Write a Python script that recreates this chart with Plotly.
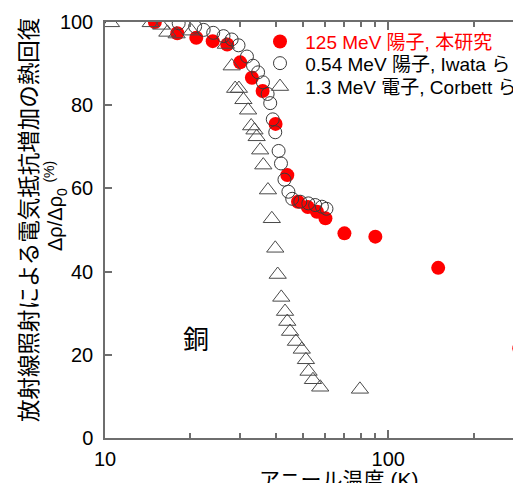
import plotly.graph_objects as go

# 125 MeV protons (this work)
red_T = [15, 18, 21, 24, 27, 30, 33, 36, 40, 44, 48, 52, 56, 60, 70, 90, 150, 290]
red_R = [100, 97.3, 96.2, 95.4, 94.6, 90.3, 86.6, 83.4, 75.5, 63.2, 56.8, 55.5, 54.4, 52.8, 49.2, 48.4, 40.9, 21.6]

# 0.54 MeV protons, Iwata et al.
circ_T = [18.2, 20.8, 22.3, 24.1, 26.2, 28.0, 29.6, 31.7, 33.3, 34.7, 36.1, 37.5, 38.3, 39.1,
          39.9, 41.0, 41.8, 43.0, 44.4, 45.8, 48.9, 52.2, 55.2, 58.3, 60.5]
circ_R = [99.7, 98.9, 98.1, 97.4, 96.6, 95.8, 94.4, 91.7, 89.5, 87.9, 85.5, 82.7, 80.5, 76.6,
          73.5, 69.0, 66.0, 62.1, 59.2, 57.5, 56.8, 56.4, 56.0, 55.6, 55.1]

# 1.3 MeV electrons, Corbett et al.
tri_T = [10.5, 14.5, 15.8, 16.6, 17.9, 20.2, 26.7, 28.0, 28.8, 29.7, 30.8, 32.0, 32.8, 33.7, 34.3,
         35.3, 36.2, 37.6, 38.8, 39.9, 40.7, 41.9, 43.2, 44.0, 45.0, 47.2, 49.5, 51.2, 52.3,
         54.2, 57.5, 79.4]
tri_R = [99.8, 99.8, 99.2, 97.5, 97.1, 97.8, 94.6, 89.4, 84.0, 84.0, 81.3, 78.8, 75.0, 74.0, 72.4,
         69.2, 65.6, 59.6, 52.7, 45.6, 39.3, 33.8, 30.4, 28.0, 25.6, 23.2, 21.3, 18.8, 16.0,
         14.0, 12.2, 11.7]

names = ["125 MeV 陽子, 本研究", "0.54 MeV 陽子, Iwata ら", "1.3 MeV 電子, Corbett ら"]
x_major = [10, 100]
x_minor = [20, 30, 40, 50, 60, 70, 80, 90, 200, 300]
y_ticks = [0, 20, 40, 60, 80, 100]

FONT = "Liberation Sans, Arial, Noto Sans CJK JP"
AX = "#6e6e6e"

fig = go.Figure()
fig.add_trace(go.Scatter(x=red_T, y=red_R, mode="markers",
                         name="\u00a0<span style='color:#ff0000'>" + names[0] + "</span>",
                         marker=dict(symbol="circle", size=14, color="#ff0000", line=dict(width=0)),
                         legend="legend"))
fig.add_trace(go.Scatter(x=circ_T, y=circ_R, mode="markers", name="\u00a0" + names[1],
                         marker=dict(symbol="circle-open", size=13, color="#3a3a3a", line=dict(width=1)),
                         legend="legend2"))
fig.add_trace(go.Scatter(x=tri_T, y=tri_R, mode="markers", name="\u00a0" + names[2],
                         marker=dict(symbol="triangle-up-open", size=15, color="#4a4a4a", line=dict(width=1)),
                         legend="legend3"))

OFF = 8  # page body margin
W, H = 521 - OFF, 483 - OFF
L, T = 105 - OFF, 22 - OFF
R, B = 0, H - (438 - OFF)
pw = W - L - R
ph = H - T - B

def px(xp):
    return (xp - OFF - L) / pw

def py(yp):
    return (H - B - (yp - OFF)) / ph

leg_common = dict(font=dict(family=FONT, size=19, color="black"), bgcolor="rgba(0,0,0,0)",
                  xanchor="left", yanchor="middle", borderwidth=0, itemwidth=30)

xmax = 1 + pw / 283.3
LEGX = 260

fig.update_layout(
    width=W, height=H,
    margin=dict(l=L, r=R, t=T, b=B, pad=0, autoexpand=False),
    paper_bgcolor="white", plot_bgcolor="white",
    font=dict(family=FONT, size=20, color="black"),
    showlegend=True,
    legend=dict(x=px(LEGX), y=py(41.7), **leg_common),
    legend2=dict(x=px(LEGX), y=py(63.3), **leg_common),
    legend3=dict(x=px(LEGX), y=py(86.7), **leg_common),
    xaxis=dict(type="log", range=[1, xmax], showgrid=False, zeroline=False,
               showline=True, linecolor=AX, linewidth=1.5, mirror="ticks",
               ticks="inside", ticklen=8, tickwidth=1.5, tickcolor=AX,
               tickmode="array", tickvals=x_major, ticktext=[str(v) for v in x_major],
               tickfont=dict(family=FONT, size=20, color="black"), ticklabelstandoff=2,
               minor=dict(ticks="inside", ticklen=5, tickwidth=1.5, tickcolor=AX,
                          tickmode="array", tickvals=x_minor, showgrid=False)),
    yaxis=dict(range=[0, 100], showgrid=False, zeroline=False,
               showline=True, linecolor=AX, linewidth=1.5, mirror=False,
               ticks="inside", ticklen=7, tickwidth=1.5, tickcolor=AX,
               tickmode="array", tickvals=y_ticks,
               tickfont=dict(family=FONT, size=20, color="black"), ticklabelstandoff=6),
    yaxis2=dict(range=[0, 100], overlaying="y", side="right", showgrid=False, zeroline=False,
                showline=False, ticks="inside", ticklen=7, tickwidth=1.5, tickcolor=AX,
                tickmode="array", tickvals=y_ticks, showticklabels=False),
)

fig.add_annotation(text="放射線照射による電気抵抗増加の熱回復", xref="paper", yref="paper",
                   x=px(27), y=py(220), xanchor="center", yanchor="middle", textangle=-90,
                   showarrow=False, font=dict(family="Noto Sans CJK JP", size=22.5, color="black"))
fig.add_annotation(text="Δρ/Δρ<sub>0</sub> <sup>(%)</sup>", xref="paper", yref="paper",
                   x=px(55), y=py(206), xanchor="center", yanchor="middle", textangle=-90,
                   showarrow=False, font=dict(family=FONT, size=20, color="black"))
fig.add_annotation(text="アニール温度 (K)", xref="paper", yref="paper",
                   x=px(338), y=py(479), xanchor="center", yanchor="middle",
                   showarrow=False, font=dict(family=FONT, size=21, color="black"))
fig.add_annotation(text="銅", xref="paper", yref="paper",
                   x=px(196), y=py(337), xanchor="center", yanchor="middle",
                   showarrow=False, font=dict(family="Noto Sans CJK JP", size=26, color="black"))

fig.write_html("out.html")
